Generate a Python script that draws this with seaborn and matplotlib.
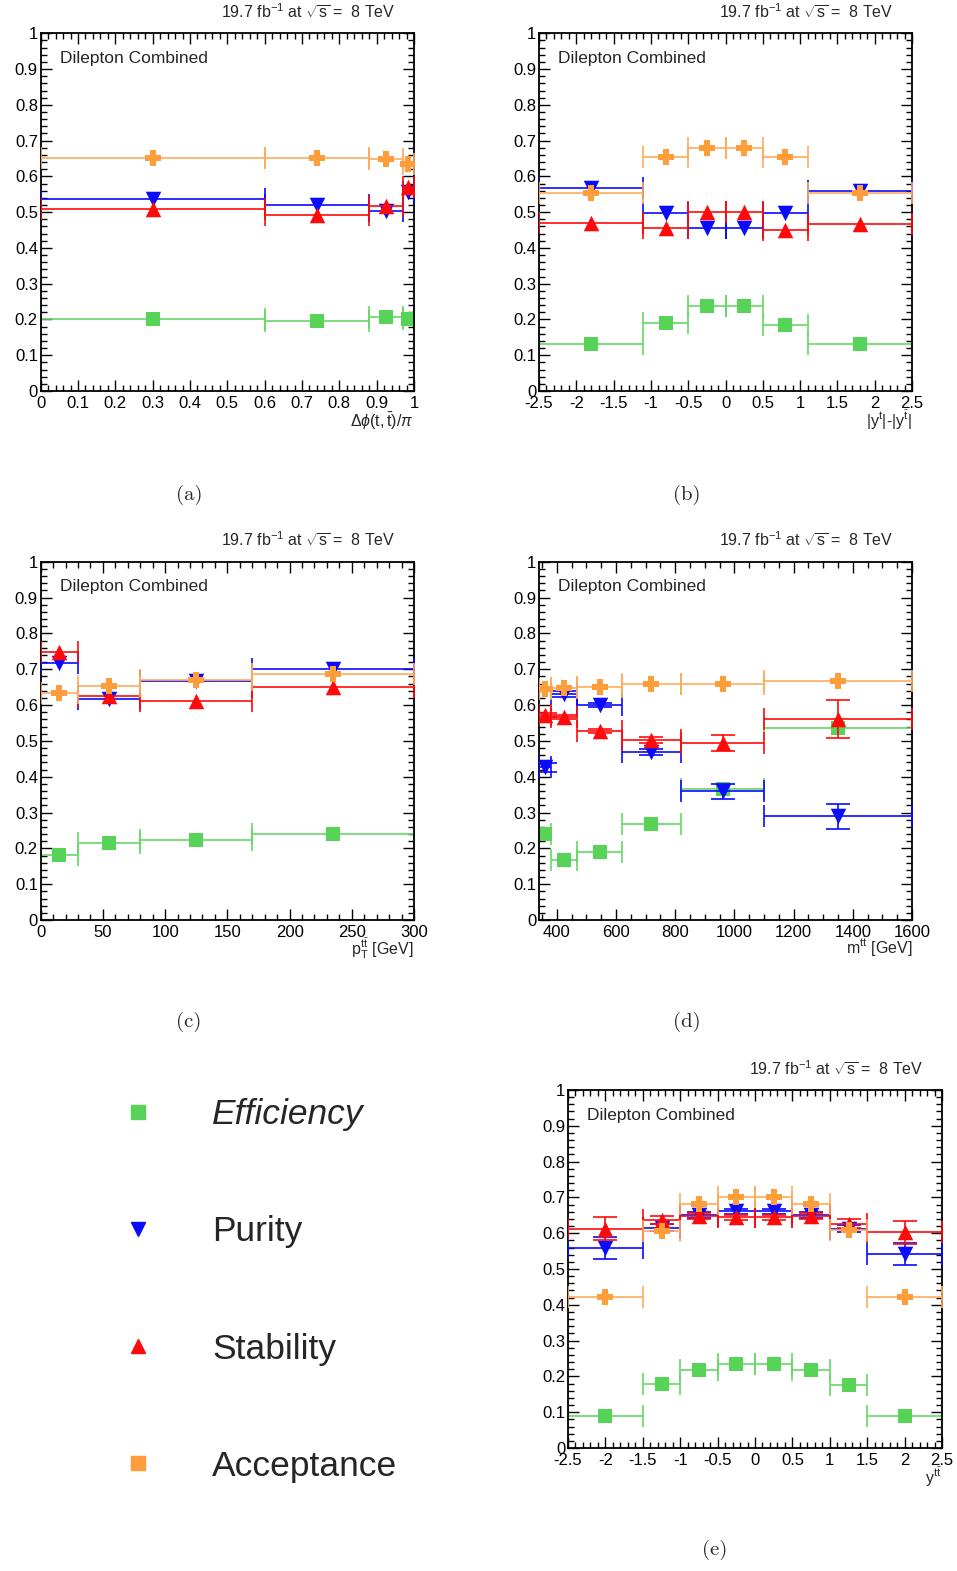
import numpy as np
import matplotlib.pyplot as plt
import seaborn as sns
from matplotlib.lines import Line2D
from matplotlib.ticker import MultipleLocator, FuncFormatter

# (a) delta phi(t, tbar) / pi
dphi_edges = [0, 0.6, 0.88, 0.97, 1.0]
dphi_eff = [0.200, 0.197, 0.206, 0.201]
dphi_pur = [0.536, 0.520, 0.502, 0.557]
dphi_stab = [0.508, 0.491, 0.517, 0.570]
dphi_acc = [0.652, 0.652, 0.648, 0.635]

# (b) |y_t| - |y_tbar|
dy_edges = [-2.5, -1.1, -0.5, 0, 0.5, 1.1, 2.5]
dy_eff = [0.132, 0.189, 0.237, 0.238, 0.185, 0.130]
dy_pur = [0.567, 0.497, 0.455, 0.455, 0.497, 0.559]
dy_stab = [0.469, 0.457, 0.500, 0.501, 0.451, 0.467]
dy_acc = [0.553, 0.655, 0.678, 0.678, 0.653, 0.553]

# (c) pT(ttbar)
pt_edges = [0, 30, 80, 170, 300]
pt_eff = [0.181, 0.214, 0.222, 0.239]
pt_pur = [0.717, 0.618, 0.667, 0.700]
pt_stab = [0.747, 0.625, 0.612, 0.649]
pt_acc = [0.633, 0.652, 0.669, 0.687]

# (d) m(ttbar)
m_edges = [340, 380, 470, 620, 820, 1100, 1600]
m_eff = [0.239, 0.168, 0.191, 0.267, 0.365, 0.535]
m_pur = [0.426, 0.631, 0.600, 0.469, 0.359, 0.289]
m_stab = [0.572, 0.567, 0.527, 0.502, 0.494, 0.560]
m_acc = [0.645, 0.647, 0.650, 0.659, 0.659, 0.668]
m_pur_err = [0.012, 0.008, 0.006, 0.008, 0.020, 0.035]
m_stab_err = [0.006, 0.006, 0.006, 0.008, 0.023, 0.053]

# (e) y(ttbar)
ytt_edges = [-2.5, -1.5, -1, -0.5, 0, 0.5, 1, 1.5, 2.5]
ytt_eff = [0.088, 0.178, 0.217, 0.234, 0.234, 0.219, 0.176, 0.088]
ytt_pur = [0.559, 0.615, 0.650, 0.661, 0.661, 0.650, 0.612, 0.542]
ytt_stab = [0.612, 0.637, 0.649, 0.644, 0.644, 0.648, 0.627, 0.603]
ytt_acc = [0.421, 0.607, 0.681, 0.702, 0.702, 0.681, 0.609, 0.421]
ytt_pur_err = [0.031, 0.010, 0.008, 0.006, 0.006, 0.008, 0.010, 0.030]
ytt_stab_err = [0.032, 0.012, 0.008, 0.006, 0.006, 0.008, 0.012, 0.032]

legend_labels = ['Efficiency', 'Purity', 'Stability', 'Acceptance']

GREEN = '#57d357'
BLUE = '#0a0aff'
RED = '#ff0a0a'
ORANGE = '#ff9d3a'

styles = {
    'eff': dict(color=GREEN, line='#66d866', marker='s', s=100, z=2),
    'pur': dict(color=BLUE, line=BLUE, marker='v', s=125, z=3),
    'stab': dict(color=RED, line=RED, marker='^', s=125, z=4),
    'acc': dict(color=ORANGE, line='#ffaa5a', marker='P', s=135, z=5),
}

sns.set_theme(style='ticks')
plt.rcParams['font.family'] = ['Liberation Sans', 'DejaVu Sans']
plt.rcParams['mathtext.fontset'] = 'custom'
plt.rcParams['mathtext.rm'] = 'Liberation Sans'
plt.rcParams['mathtext.it'] = 'Liberation Sans:italic'
plt.rcParams['axes.unicode_minus'] = False

fig = plt.figure(figsize=(9.57, 15.71), dpi=100)
W, H = 957.0, 1571.0


def add_axes(left, top, right, bottom):
    return fig.add_axes([left / W, 1 - bottom / H, (right - left) / W, (bottom - top) / H])


def draw_panel(ax, edges, series, xlabel, xlim, xmajor, xminor, label_y):
    edges = np.array(edges, float)
    centers = (edges[:-1] + edges[1:]) / 2
    halfw = (edges[1:] - edges[:-1]) / 2
    for key, vals, err in series:
        st = styles[key]
        # bin width bars with end ticks
        ax.errorbar(centers, vals, xerr=halfw, fmt='none',
                    ecolor=st['line'], elinewidth=1.2, capsize=8,
                    capthick=1.2, zorder=st['z'])
        # statistical bars, only where they stick out of the marker
        if err is not None:
            ax.errorbar(centers, vals, yerr=err, fmt='none',
                        ecolor=st['line'], elinewidth=1.2, capsize=8.5,
                        capthick=1.2, zorder=st['z'])
        sns.scatterplot(x=centers, y=vals, marker=st['marker'], color=st['color'],
                        s=st['s'], linewidth=0, ax=ax, zorder=st['z'] + 0.5,
                        legend=False)

    ax.set_xlim(xlim)
    ax.set_ylim(0, 1)
    ax.xaxis.set_major_locator(MultipleLocator(xmajor))
    ax.xaxis.set_minor_locator(MultipleLocator(xminor))
    ax.yaxis.set_major_locator(MultipleLocator(0.1))
    ax.yaxis.set_minor_locator(MultipleLocator(0.02))
    fmt = FuncFormatter(lambda v, p: f'{round(v, 6) + 0:g}')
    ax.xaxis.set_major_formatter(fmt)
    ax.yaxis.set_major_formatter(fmt)
    ax.tick_params(which='both', direction='in', top=True, right=True,
                   labelsize=12, colors='black')
    ax.tick_params(which='major', length=8, width=1)
    ax.tick_params(which='minor', length=4, width=1)
    ax.tick_params(axis='x', pad=3.5)
    ax.tick_params(axis='y', pad=2)
    for sp in ax.spines.values():
        sp.set_linewidth(1.3)
        sp.set_color('black')
    ax.set_ylabel('')
    ax.set_xlabel(xlabel, fontsize=11.5, loc='right')
    ax.xaxis.set_label_coords(1.0, label_y)
    ax.text(0.052, 0.93, 'Dilepton Combined', transform=ax.transAxes,
            fontsize=12.5, va='center', ha='left')
    ax.text(0.95, 1.035, r'19.7 fb$^{-1}$ at $\sqrt{\mathrm{s}}$ =  8 TeV',
            transform=ax.transAxes, fontsize=11.5, ha='right', va='bottom')


ax_a = add_axes(40.7, 33.3, 414, 391)
draw_panel(ax_a, dphi_edges,
           [('eff', dphi_eff, None), ('pur', dphi_pur, None),
            ('stab', dphi_stab, None), ('acc', dphi_acc, None)],
           r'$\Delta\phi(\mathrm{t},\bar{\mathrm{t}})/\pi$', (0, 1), 0.1, 0.02, -0.055)

ax_b = add_axes(539, 33.3, 912, 391)
draw_panel(ax_b, dy_edges,
           [('eff', dy_eff, None), ('pur', dy_pur, None),
            ('stab', dy_stab, None), ('acc', dy_acc, None)],
           r'$|\mathrm{y}^{\mathrm{t}}|$-$|\mathrm{y}^{\bar{\mathrm{t}}}|$', (-2.5, 2.5), 0.5, 0.1, -0.05)

ax_c = add_axes(40.7, 561.7, 414, 920)
draw_panel(ax_c, pt_edges,
           [('eff', pt_eff, None), ('pur', pt_pur, None),
            ('stab', pt_stab, None), ('acc', pt_acc, None)],
           r'$\mathrm{p}_{\mathrm{T}}^{\mathrm{t}\bar{\mathrm{t}}}$ [GeV]', (0, 300), 50, 10, -0.045)

ax_d = add_axes(539, 561.7, 912, 920)
draw_panel(ax_d, m_edges,
           [('eff', m_eff, None), ('pur', m_pur, m_pur_err),
            ('stab', m_stab, m_stab_err), ('acc', m_acc, None)],
           r'$\mathrm{m}^{\mathrm{t}\bar{\mathrm{t}}}$ [GeV]', (340, 1600), 200, 50, -0.045)

ax_e = add_axes(568, 1090, 942, 1448)
draw_panel(ax_e, ytt_edges,
           [('eff', ytt_eff, None), ('pur', ytt_pur, ytt_pur_err),
            ('stab', ytt_stab, ytt_stab_err), ('acc', ytt_acc, None)],
           r'$\mathrm{y}^{\mathrm{t}\bar{\mathrm{t}}}$', (-2.5, 2.5), 0.5, 0.1, -0.05)

# sub-figure captions
for lab, x, y in [('(a)', 189, 495), ('(b)', 687, 495), ('(c)', 189, 1022),
                  ('(d)', 687, 1022), ('(e)', 715, 1550)]:
    fig.text(x / W, 1 - y / H, lab, family='cmr10', fontsize=15,
             ha='center', va='center')

# legend panel
handles = [
    Line2D([], [], marker='s', color=GREEN, linestyle='none', markersize=9.5),
    Line2D([], [], marker='v', color=BLUE, linestyle='none', markersize=10),
    Line2D([], [], marker='^', color=RED, linestyle='none', markersize=10),
    Line2D([], [], marker='s', color=ORANGE, linestyle='none', markersize=9.5),
]
leg = fig.legend(handles, legend_labels, loc='upper left',
                 bbox_to_anchor=(120 / W, 1 - 1098 / H), frameon=False,
                 fontsize=25.5, handlelength=1.0, handletextpad=1.6,
                 labelspacing=2.38, borderpad=0, borderaxespad=0)
leg.get_texts()[0].set_style('italic')

fig.savefig('out.png', dpi=100)
